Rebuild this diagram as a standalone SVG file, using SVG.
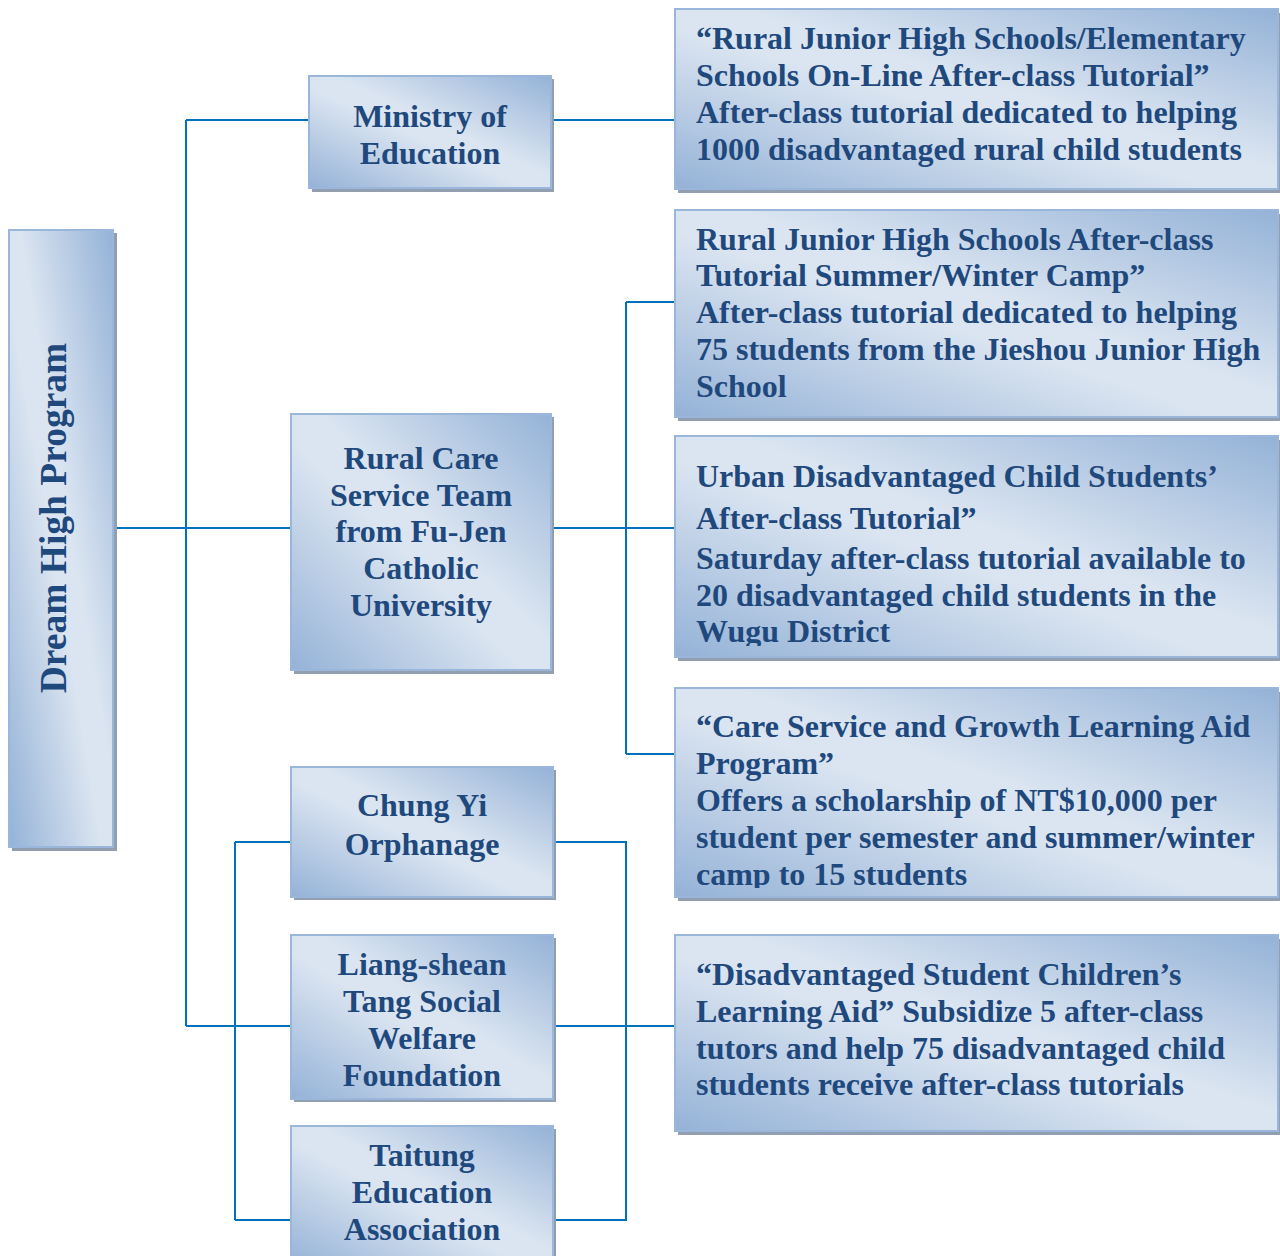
<svg xmlns="http://www.w3.org/2000/svg" width="1280" height="1256" viewBox="0 0 1280 1256">
<style>
.sh{fill:#929fb1}
.bg{fill:url(#g);stroke:#9ab6da;stroke-width:2}
.t{font-family:"Liberation Serif","Times New Roman",serif;font-weight:bold;font-size:32px;fill:#1f497d}
.c{text-anchor:middle}
.big{font-size:37.5px}
.conn path{stroke:#0070c0;stroke-width:2;fill:none}
</style>
<defs>
<linearGradient id="g" x1="0" y1="1" x2="1" y2="0">
<stop offset="0" stop-color="#94b2d7"/>
<stop offset="0.45" stop-color="#dbe5f1"/>
<stop offset="0.55" stop-color="#dbe5f1"/>
<stop offset="1" stop-color="#94b2d7"/>
</linearGradient>
<clipPath id="clip3"><rect x="674" y="435" width="606" height="211"/></clipPath>
<clipPath id="clip4"><rect x="674" y="687" width="606" height="201"/></clipPath>
</defs>
<rect width="1280" height="1256" fill="#ffffff"/>

<g id="connectors" class="conn">
<path d="M114 528H290"/>
<path d="M186 120V1026"/>
<path d="M186 120H308"/>
<path d="M186 1026H290"/>
<path d="M551 120H674"/>
<path d="M551 528H674"/>
<path d="M626 302V754"/>
<path d="M626 302H674"/>
<path d="M626 754H674"/>
<path d="M235 842V1220"/>
<path d="M235 842H290"/>
<path d="M235 1220H290"/>
<path d="M553 842H626V1220H553"/>
<path d="M553 1026H674"/>
</g>

<g id="dream-high">
<rect class="sh" x="12" y="233" width="105" height="618"/>
<rect class="bg" x="9" y="230" width="104" height="617"/>
<text class="t c big" transform="translate(66 518) rotate(-90)">Dream High Program</text>
</g>

<g id="ministry">
<rect class="sh" x="312" y="79" width="242" height="113"/>
<rect class="bg" x="309" y="76" width="242" height="112"/>
<text class="t c" x="430" y="127">Ministry of</text>
<text class="t c" x="430" y="164">Education</text>
</g>

<g id="rural-care">
<rect class="sh" x="294" y="417" width="260" height="257"/>
<rect class="bg" x="291" y="414" width="260" height="256"/>
<text class="t c" x="421" y="469">Rural Care</text>
<text class="t c" x="421" y="506">Service Team</text>
<text class="t c" x="421" y="542">from Fu-Jen</text>
<text class="t c" x="421" y="579">Catholic</text>
<text class="t c" x="421" y="616">University</text>
</g>

<g id="chung-yi">
<rect class="sh" x="294" y="770" width="262" height="130"/>
<rect class="bg" x="291" y="767" width="262" height="130"/>
<text class="t c" x="422" y="816">Chung Yi</text>
<text class="t c" x="422" y="855">Orphanage</text>
</g>

<g id="liang-shean">
<rect class="sh" x="294" y="938" width="262" height="164"/>
<rect class="bg" x="291" y="935" width="262" height="164"/>
<text class="t c" x="422" y="975">Liang-shean</text>
<text class="t c" x="422" y="1012">Tang Social</text>
<text class="t c" x="422" y="1049">Welfare</text>
<text class="t c" x="422" y="1086">Foundation</text>
</g>

<g id="taitung">
<rect class="sh" x="294" y="1129" width="262" height="140"/>
<rect class="bg" x="291" y="1126" width="262" height="140"/>
<text class="t c" x="422" y="1166">Taitung</text>
<text class="t c" x="422" y="1203">Education</text>
<text class="t c" x="422" y="1240">Association</text>
</g>

<g id="program-online">
<rect class="sh" x="678" y="13" width="606" height="180"/>
<rect class="bg" x="675" y="9" width="603" height="180"/>
<text class="t" x="696" y="49">“Rural Junior High Schools/Elementary</text>
<text class="t" x="696" y="86">Schools On-Line After-class Tutorial”</text>
<text class="t" x="696" y="123">After-class tutorial dedicated to helping</text>
<text class="t" x="696" y="160">1000 disadvantaged rural child students</text>
</g>

<g id="program-camp">
<rect class="sh" x="678" y="214" width="606" height="207"/>
<rect class="bg" x="675" y="210" width="603" height="207"/>
<text class="t" x="696" y="250">Rural Junior High Schools After-class</text>
<text class="t" x="696" y="286">Tutorial Summer/Winter Camp”</text>
<text class="t" x="696" y="323">After-class tutorial dedicated to helping</text>
<text class="t" x="696" y="360">75 students from the Jieshou Junior High</text>
<text class="t" x="696" y="397">School</text>
</g>

<g id="program-urban">
<rect class="sh" x="678" y="440" width="606" height="221"/>
<rect class="bg" x="675" y="436" width="603" height="221"/>
<g clip-path="url(#clip3)">
<text class="t" x="696" y="487">Urban Disadvantaged Child Students’</text>
<text class="t" x="696" y="529">After-class Tutorial”</text>
<text class="t" x="696" y="569">Saturday after-class tutorial available to</text>
<text class="t" x="696" y="606">20 disadvantaged child students in the</text>
<text class="t" x="696" y="642">Wugu District</text>
</g>
</g>

<g id="program-care">
<rect class="sh" x="678" y="692" width="606" height="209"/>
<rect class="bg" x="675" y="688" width="603" height="209"/>
<g clip-path="url(#clip4)">
<text class="t" x="696" y="737">“Care Service and Growth Learning Aid</text>
<text class="t" x="696" y="774">Program”</text>
<text class="t" x="696" y="811">Offers a scholarship of NT$10,000 per</text>
<text class="t" x="696" y="848">student per semester and summer/winter</text>
<text class="t" x="696" y="885">camp to 15 students</text>
</g>
</g>

<g id="program-learning-aid">
<rect class="sh" x="678" y="939" width="606" height="196"/>
<rect class="bg" x="675" y="935" width="603" height="196"/>
<text class="t" x="696" y="985">“Disadvantaged Student Children’s</text>
<text class="t" x="696" y="1022">Learning Aid” Subsidize 5 after-class</text>
<text class="t" x="696" y="1059">tutors and help 75 disadvantaged child</text>
<text class="t" x="696" y="1095">students receive after-class tutorials</text>
</g>
</svg>
